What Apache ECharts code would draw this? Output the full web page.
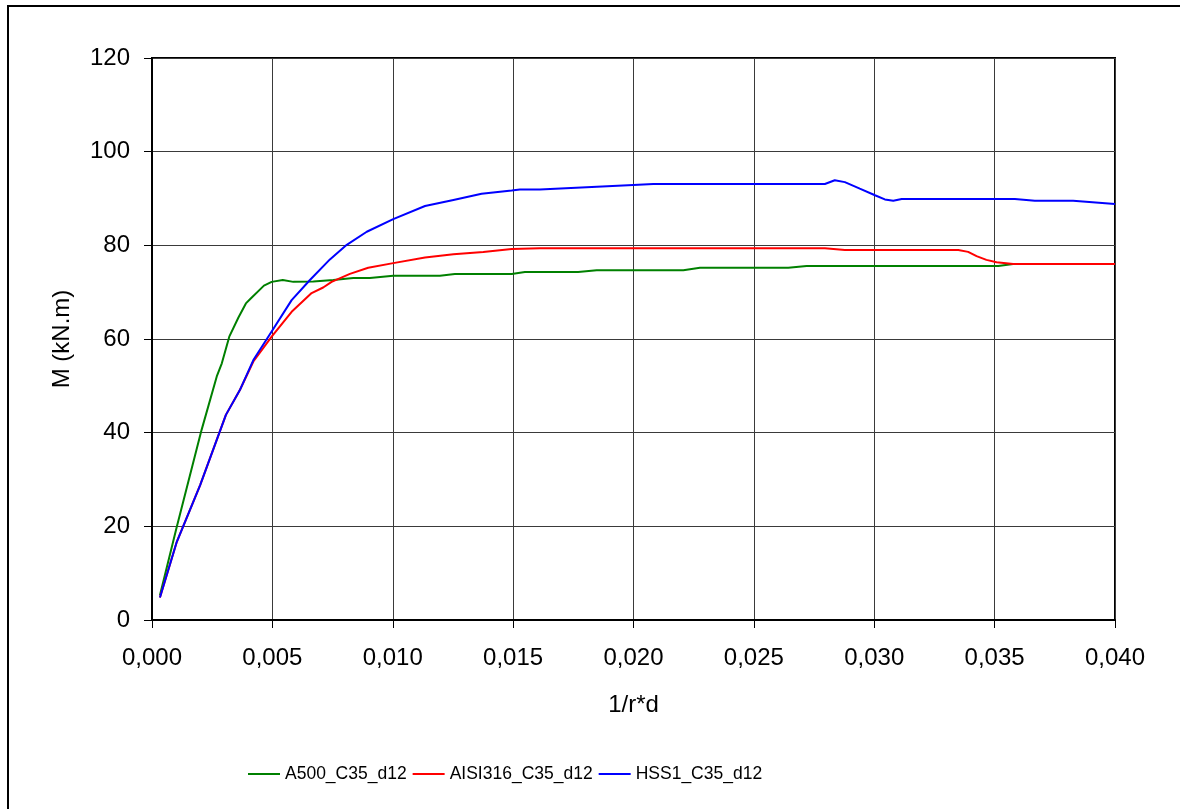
<!DOCTYPE html>
<html>
<head>
<meta charset="utf-8">
<script src="https://cdn.jsdelivr.net/npm/echarts@6/dist/echarts.min.js"></script>
<style>
  html, body { margin: 0; padding: 0; background: #ffffff; }
  #chart { width: 1180px; height: 809px; }
</style>
</head>
<body>
<div id="chart"></div>
<script>
// Moment–curvature curves, M (kN.m) against 1/r*d
const seriesNames = ['A500_C35_d12', 'AISI316_C35_d12', 'HSS1_C35_d12'];

const a500X = [0.00033, 0.00103, 0.00206, 0.00269, 0.0029, 0.00321, 0.00359, 0.0039, 0.00407, 0.00465, 0.00497,
  0.00543, 0.00587, 0.0067, 0.00753, 0.00836, 0.00905, 0.01002, 0.01196, 0.01258, 0.01494, 0.01549, 0.0177,
  0.01847, 0.02207, 0.02276, 0.02643, 0.02719, 0.03515, 0.03577, 0.040];
const a500Y = [5.3, 19.9, 40.6, 52.0, 54.8, 60.5, 64.6, 67.6, 68.5, 71.4, 72.2,
  72.6, 72.2, 72.3, 72.6, 73.0, 73.0, 73.5, 73.5, 73.9, 73.9, 74.3, 74.3,
  74.7, 74.7, 75.2, 75.2, 75.6, 75.6, 76.0, 76.0];

const aisiX = [0.00033, 0.00103, 0.002, 0.00307, 0.00365, 0.00421, 0.00497, 0.0058, 0.00663, 0.00711, 0.00746,
  0.00822, 0.00898, 0.01002, 0.01134, 0.01252, 0.01376, 0.01494, 0.01611, 0.02795, 0.02878, 0.03349,
  0.0339, 0.03425, 0.03466, 0.03508, 0.03577, 0.040];
const aisiY = [4.8, 16.7, 28.8, 43.8, 49.1, 55.2, 60.5, 65.8, 69.8, 71.0, 72.2,
  73.9, 75.2, 76.2, 77.4, 78.1, 78.6, 79.2, 79.4, 79.4, 79.0, 79.0,
  78.6, 77.7, 76.9, 76.4, 76.0, 76.0];

const hssX = [0.00033, 0.00103, 0.002, 0.00307, 0.00365, 0.00421, 0.00497, 0.0058, 0.00656, 0.00739, 0.00809,
  0.00892, 0.01002, 0.01134, 0.01252, 0.01369, 0.01494, 0.01528, 0.01611, 0.01999, 0.02082, 0.02795,
  0.02836, 0.02878, 0.0294, 0.03003, 0.03044, 0.03079, 0.03114, 0.03584, 0.03667, 0.03826, 0.040];
const hssY = [4.8, 16.7, 28.8, 43.8, 49.1, 55.5, 61.6, 68.3, 72.6, 77.0, 80.1,
  82.9, 85.6, 88.4, 89.7, 91.0, 91.7, 91.9, 91.9, 92.9, 93.1, 93.1,
  93.9, 93.5, 92.1, 90.7, 89.8, 89.5, 89.9, 89.9, 89.5, 89.5, 88.8];

const seriesColors = ['#008000', '#ff0000', '#0000ff'];

function pairs(xs, ys) {
  return xs.map((x, i) => [x, ys[i]]);
}

const textFont = "'Liberation Sans', Arial, sans-serif";

const chart = echarts.init(document.getElementById('chart'), null, { renderer: 'canvas' });

chart.setOption({
  animation: false,
  backgroundColor: '#ffffff',
  graphic: [{
    type: 'rect',
    shape: { x: 8, y: 6, width: 1300, height: 1000 },
    style: { fill: 'none', stroke: '#000000', lineWidth: 2 },
    silent: true
  }],
  grid: {
    left: 152, right: 65, top: 58, bottom: 189,
    show: true, borderColor: '#000000', borderWidth: 2, backgroundColor: 'transparent'
  },
  legend: {
    left: 248, top: 765, padding: 0,
    icon: 'rect',
    itemWidth: 32, itemHeight: 2, itemGap: 6,
    textStyle: { fontFamily: textFont, fontSize: 17.5, color: '#000000' },
    data: seriesNames
  },
  xAxis: {
    type: 'value', min: 0, max: 0.04, interval: 0.005,
    name: '1/r*d', nameLocation: 'middle', nameGap: 73,
    nameTextStyle: { fontFamily: textFont, fontSize: 24, color: '#000000' },
    axisLine: { show: true, onZero: false, lineStyle: { color: '#000000', width: 2 } },
    axisTick: { show: true, length: 8, lineStyle: { color: '#000000', width: 1 } },
    axisLabel: {
      margin: 26, fontFamily: textFont, fontSize: 24, color: '#000000',
      formatter: v => v.toFixed(3).replace('.', ',')
    },
    splitLine: { show: true, lineStyle: { color: '#3a3a3a', width: 1 } }
  },
  yAxis: {
    type: 'value', min: 0, max: 120, interval: 20,
    name: 'M (kN.m)', nameLocation: 'middle', nameGap: 78,
    nameTextStyle: { fontFamily: textFont, fontSize: 24, color: '#000000' },
    axisLine: { show: true, lineStyle: { color: '#000000', width: 2 } },
    axisTick: { show: true, length: 8, lineStyle: { color: '#000000', width: 1 } },
    axisLabel: { margin: 22, fontFamily: textFont, fontSize: 24, color: '#000000' },
    splitLine: { show: true, lineStyle: { color: '#3a3a3a', width: 1 } }
  },
  series: [
    { name: seriesNames[0], data: pairs(a500X, a500Y), color: seriesColors[0] },
    { name: seriesNames[1], data: pairs(aisiX, aisiY), color: seriesColors[1] },
    { name: seriesNames[2], data: pairs(hssX, hssY), color: seriesColors[2] }
  ].map(s => ({
    type: 'line', name: s.name, data: s.data, symbol: 'none', smooth: false,
    itemStyle: { color: s.color },
    lineStyle: { color: s.color, width: 2 },
    z: 3
  }))
});
</script>
</body>
</html>
